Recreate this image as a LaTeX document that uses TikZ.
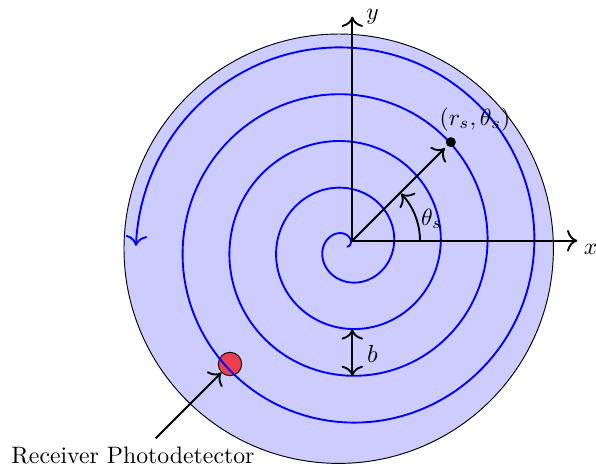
\documentclass[tikz,border=0pt]{standalone}
\usetikzlibrary{arrows.meta}
\definecolor{pdred}{RGB}{236,62,80}
\begin{document}
\begin{tikzpicture}[x=0.425pt, y=0.425pt, >={To[scale=1.3]},
  axis/.style={thick,->},
  lbl/.style={inner sep=0pt},
  spiral/.style={blue, thick, ->},
  dotnode/.style={circle, fill=black, inner sep=0pt, minimum size=4.25pt},
  pdnode/.style={circle, fill=pdred, draw=black, inner sep=0pt, minimum size=9.95pt}]
\useasboundingbox (-352.3,-232.3) rectangle (243.7,240.7);
% disc
\filldraw[fill=blue!20, draw=black] (-13.6,-8) circle[radius=214.7];
% photodetector
\node[pdnode] (pd) at (-122.3,-123.3) {};
% spiral
\draw[spiral] plot[domain=0:28.274, samples=600, variable=\t]
  ({-5.5+7.46*\t*cos(deg(\t))},{-6+7.46*\t*sin(deg(\t))});
% axes
\coordinate (O) at (0,0);
\coordinate (xe) at (225,0);
\coordinate (ye) at (0,224);
\draw[axis] (O) -- (xe);
\draw[axis] (O) -- (ye);
\node[lbl] (xl) at (238.2,-8.3) {$x$};
\node[lbl] (yl) at (20.2,224) {$y$};
% source point
\node[dotnode] (rs) at (45:139.4) {};
\draw[thick,->,shorten >=1.3pt] (O) -- (rs);
\node[lbl] (rsl) at (122.7,121.5) {$(r_s,\theta_s)$};
% angle
\draw[thick,->] (67.7,0) arc[start angle=0, end angle=44, radius=67.7];
\node[lbl] (thl) at (79.4,21.7) {$\theta_s$};
% pitch b
\coordinate (b1) at (0,-88.6);
\coordinate (b2) at (0,-135.3);
\draw[thick,<->] (b1) -- (b2);
\node[lbl, scale=1.05] (bl) at (20.2,-113.3) {$b$};
% receiver label
\coordinate (tail) at (-196.6,-197.6);
\draw[thick,->] (tail) -- (pd);
\node[anchor=base, inner sep=0pt, scale=1.01] (recl) at (-219.3,-222.6) {Receiver Photodetector};
\end{tikzpicture}
\end{document}
